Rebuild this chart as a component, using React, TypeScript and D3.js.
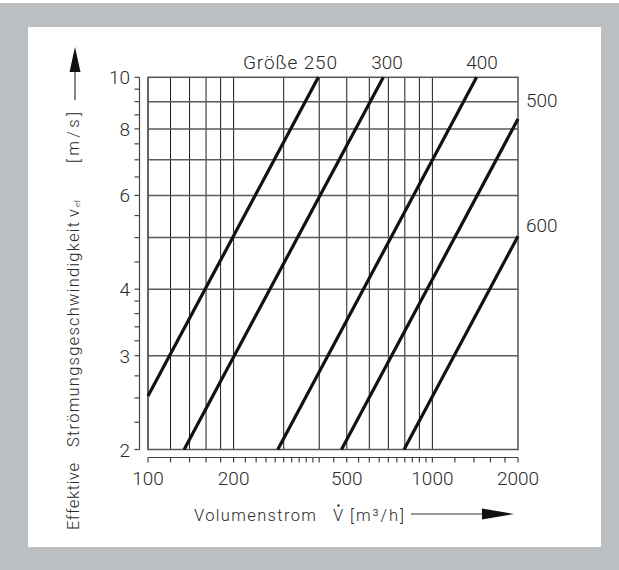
import React, { useEffect, useRef } from "react";
import * as d3 from "d3";

const sizes = ["250", "300", "400", "500", "600"];
const lineStart: [number, number][] = [
  [100, 2.52],
  [134, 2],
  [286, 2],
  [479, 2],
  [795, 2],
];
const lineEnd: [number, number][] = [
  [397, 10],
  [672, 10],
  [1430, 10],
  [2000, 8.35],
  [2000, 5.03],
];

const gridX = [100, 120, 140, 160, 180, 200, 300, 400, 500, 600, 700, 800, 900, 1000];
const gridY = [3, 4, 5, 6, 7, 8, 9];
const tickX = [
  100, 120, 140, 160, 180, 200, 220, 240, 260, 280, 300, 320, 340, 360, 380, 400, 450, 500,
  550, 600, 650, 700, 750, 800, 850, 900, 950, 1000, 1200, 1400, 1600, 1800, 2000,
];
const tickY = [
  2, 2.25, 2.5, 2.75, 3, 3.2, 3.4, 3.6, 3.8, 4, 4.5, 5, 5.5, 6, 6.5, 7, 7.5, 8, 8.5, 9, 9.5, 10,
];
const labelsX = [100, 200, 500, 1000, 2000];
const labelsY = [2, 3, 4, 6, 8, 10];

const FONT = "Roboto, 'DejaVu Sans', sans-serif";
const INK = "#2a2a2a";

const App = () => {
  const svgRef = useRef<SVGSVGElement>(null);
  const W = 619;
  const H = 570;

  useEffect(() => {
    const svg = d3.select(svgRef.current);
    svg.selectAll("*").remove();

    svg.append("rect").attr("width", W).attr("height", H).attr("fill", "#bcbfc2");
    svg.append("rect").attr("width", W).attr("height", 3).attr("fill", "#fff");
    svg
      .append("rect")
      .attr("x", 28)
      .attr("y", 27)
      .attr("width", 573)
      .attr("height", 520)
      .attr("fill", "#fff");

    const x = d3.scaleLog().domain([100, 2000]).range([148, 518]);
    const y = d3.scaleLog().domain([2, 10]).range([449.5, 77.3]);

    const g = svg.append("g").attr("font-family", FONT).attr("font-weight", 300).attr("fill", INK);

    // vertikale Gitterlinien
    g.selectAll(".vx")
      .data(gridX)
      .enter()
      .append("line")
      .attr("x1", (d) => x(d))
      .attr("x2", (d) => x(d))
      .attr("y1", y(10))
      .attr("y2", y(2))
      .attr("stroke", "#1a1a1a")
      .attr("stroke-width", 1);

    // horizontale Gitterlinien
    g.selectAll(".hy")
      .data(gridY)
      .enter()
      .append("line")
      .attr("x1", x(100))
      .attr("x2", x(2000))
      .attr("y1", (d) => y(d))
      .attr("y2", (d) => y(d))
      .attr("stroke", "#5a5a5a")
      .attr("stroke-width", 1.5);

    // Rahmen
    g.append("rect")
      .attr("x", x(100))
      .attr("y", y(10))
      .attr("width", x(2000) - x(100))
      .attr("height", y(2) - y(10))
      .attr("fill", "none")
      .attr("stroke", "#555")
      .attr("stroke-width", 1.5);

    // Kennlinien
    g.selectAll(".kl")
      .data(sizes)
      .enter()
      .append("line")
      .attr("x1", (_, i) => x(lineStart[i][0]))
      .attr("y1", (_, i) => y(lineStart[i][1]))
      .attr("x2", (_, i) => x(lineEnd[i][0]))
      .attr("y2", (_, i) => y(lineEnd[i][1]))
      .attr("stroke", "#111")
      .attr("stroke-width", 3.2);

    // y-Achse
    const yAxisX = 139.5;
    g.append("line")
      .attr("x1", yAxisX)
      .attr("x2", yAxisX)
      .attr("y1", y(10))
      .attr("y2", y(2))
      .attr("stroke", "#444")
      .attr("stroke-width", 1.2);
    g.selectAll(".ty")
      .data(tickY)
      .enter()
      .append("line")
      .attr("x1", yAxisX - 5)
      .attr("x2", yAxisX)
      .attr("y1", (d) => y(d))
      .attr("y2", (d) => y(d))
      .attr("stroke", "#444")
      .attr("stroke-width", 1.2);
    g.selectAll(".ly")
      .data(labelsY)
      .enter()
      .append("text")
      .attr("x", 130)
      .attr("y", (d) => y(d) + 7)
      .attr("text-anchor", "end")
      .attr("font-size", 19)
      .text((d) => d);

    // x-Achse
    const xAxisY = 457.5;
    g.append("line")
      .attr("x1", x(100))
      .attr("x2", x(2000))
      .attr("y1", xAxisY)
      .attr("y2", xAxisY)
      .attr("stroke", "#444")
      .attr("stroke-width", 1.2);
    g.selectAll(".tx")
      .data(tickX)
      .enter()
      .append("line")
      .attr("x1", (d) => x(d))
      .attr("x2", (d) => x(d))
      .attr("y1", xAxisY)
      .attr("y2", xAxisY + 5)
      .attr("stroke", "#444")
      .attr("stroke-width", 1.2);
    g.selectAll(".lx")
      .data(labelsX)
      .enter()
      .append("text")
      .attr("x", (d) => x(d))
      .attr("y", 485)
      .attr("text-anchor", "middle")
      .attr("font-size", 19)
      .text((d) => d);

    // Beschriftung der Kennlinien
    const lab = (t: string, lx: number, ly: number, anchor: string) =>
      g.append("text")
        .attr("x", lx)
        .attr("y", ly)
        .attr("text-anchor", anchor)
        .attr("font-size", 19)
        .text(t);
    lab(`Größe ${sizes[0]}`, 243, 69, "start").attr("textLength", 94);
    lab(sizes[1], 387, 69, "middle");
    lab(sizes[2], 482, 69, "middle");
    lab(sizes[3], 526, 107, "start");
    lab(sizes[4], 526, 232, "start");

    // x-Achsentitel
    const tx = g.append("g").attr("font-size", 16.5);
    tx.append("text").attr("x", 194).attr("y", 521).attr("textLength", 122).text("Volumenstrom");
    tx.append("text").attr("x", 333).attr("y", 521).text("V");
    g.append("circle").attr("cx", 338.5).attr("cy", 505.5).attr("r", 1.2).attr("fill", INK);
    tx.append("text").attr("x", 350).attr("y", 521).attr("textLength", 54).text("[m³/h]");
    g.append("line")
      .attr("x1", 411)
      .attr("x2", 484)
      .attr("y1", 514)
      .attr("y2", 514)
      .attr("stroke", "#333")
      .attr("stroke-width", 1.2);
    g.append("path").attr("d", "M482,508.5L514,514L482,519.5Z").attr("fill", "#111");

    // y-Achsentitel
    const ty = g.append("g").attr("transform", "translate(79,0) rotate(-90)").attr("font-size", 16.5);
    ty.append("text").attr("x", -530).attr("y", 0).attr("textLength", 67).text("Effektive");
    ty.append("text").attr("x", -447).attr("y", 0).attr("textLength", 225).text("Strömungsgeschwindigkeit");
    ty.append("text").attr("x", -217).attr("y", 0).text("v");
    ty.append("text").attr("x", -207).attr("y", 1).attr("font-size", 8).text("ef");
    ty.append("text").attr("x", -163).attr("y", 0).attr("textLength", 51).text("[m/s]");
    g.append("line")
      .attr("x1", 75)
      .attr("x2", 75)
      .attr("y1", 100)
      .attr("y2", 68)
      .attr("stroke", "#333")
      .attr("stroke-width", 1.2);
    g.append("path").attr("d", "M69.5,72L75,47L80.5,72Z").attr("fill", "#111");
  }, []);

  return (
    <svg
      ref={svgRef}
      width={W}
      height={H}
      style={{ position: "absolute", left: 0, top: 0, display: "block" }}
    />
  );
};

export default App;
